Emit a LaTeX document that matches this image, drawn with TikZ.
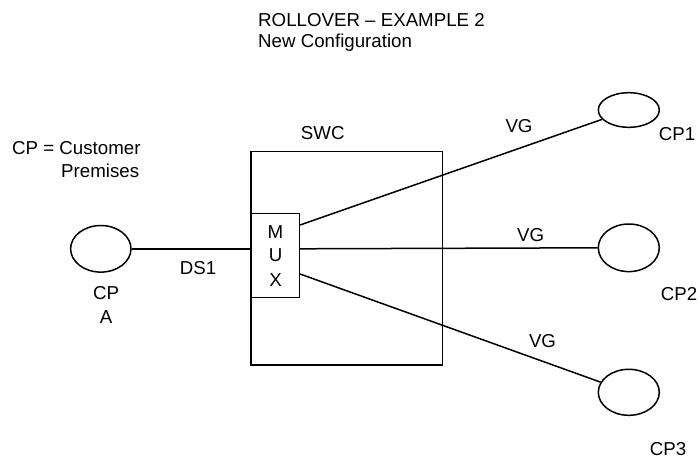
\documentclass[tikz,border=0pt]{standalone}
\usepackage{fontspec}
\setmainfont{Liberation Sans}
\usetikzlibrary{shapes.geometric}
\begin{document}
\begin{tikzpicture}[x=1pt,y=-1pt,
  every node/.style={font=\fontsize{18.7}{22}\selectfont},
  lbl/.style={anchor=base,inner sep=0pt},
  lbll/.style={anchor=base west,inner sep=0pt},
  cpnode/.style={draw,ellipse,line width=1.5pt,inner sep=0pt},
  boxnode/.style={draw,rectangle,line width=1.5pt,inner sep=0pt},
  conn/.style={line width=1.5pt}]
\useasboundingbox (0,0) rectangle (700,458);
% title
\node[lbll] (t1) at (258,26.5) {ROLLOVER – EXAMPLE 2};
\node[lbll] (t2) at (258,47) {New Configuration};
% legend
\node[lbll] (leg1) at (12,154) {CP = Customer};
\node[lbll] (leg2) at (61,177.3) {Premises};
% SWC box
\node[boxnode,minimum width=191.7pt,minimum height=213.5pt] (swc) at (346.85,258.25) {};
\node[lbl] (swcl) at (322.7,139) {SWC};
% MUX box
\node[boxnode,minimum width=47.6pt,minimum height=84pt] (mux) at (275.5,255.3) {};
\node[lbl] (m) at (275.5,238.3) {M};
\node[lbl] (u) at (275.5,261.7) {U};
\node[lbl] (x) at (275.5,286.7) {X};
% customer premises
\node[cpnode,minimum width=60.4pt,minimum height=46.6pt] (cpa) at (100.8,248.8) {};
\node[cpnode,minimum width=61pt,minimum height=34.6pt] (cp1) at (628.8,110) {};
\node[cpnode,minimum width=61pt,minimum height=47.6pt] (cp2) at (628.8,247.8) {};
\node[cpnode,minimum width=61pt,minimum height=46pt] (cp3) at (628.8,392.3) {};
\node[lbl] (cpal1) at (106,299) {CP};
\node[lbl] (cpal2) at (106,323) {A};
\node[lbl] (cp1l) at (677,140) {CP1};
\node[lbl] (cp2l) at (679,300.7) {CP2};
\node[lbl] (cp3l) at (668,455) {CP3};
% connectors
\coordinate (mA) at (mux.west |- cpa.east);
\coordinate (m1) at ([yshift=30.3pt]mux.east);
\coordinate (m2) at (mux.east |- cpa.east);
\coordinate (m3) at ([yshift=-18.7pt]mux.east);
\draw[conn] (cpa.east) -- (mA);
\draw[conn] (m1) -- (cp1);
\draw[conn] (m2) -- (cp2.west);
\draw[conn] (m3) -- (cp3);
% labels
\node[lbl] (ds1) at (198,274) {DS1};
\node[lbl] (vg1) at (519,132) {VG};
\node[lbl] (vg2) at (530.7,241) {VG};
\node[lbl] (vg3) at (542.5,347) {VG};
\end{tikzpicture}
\end{document}
